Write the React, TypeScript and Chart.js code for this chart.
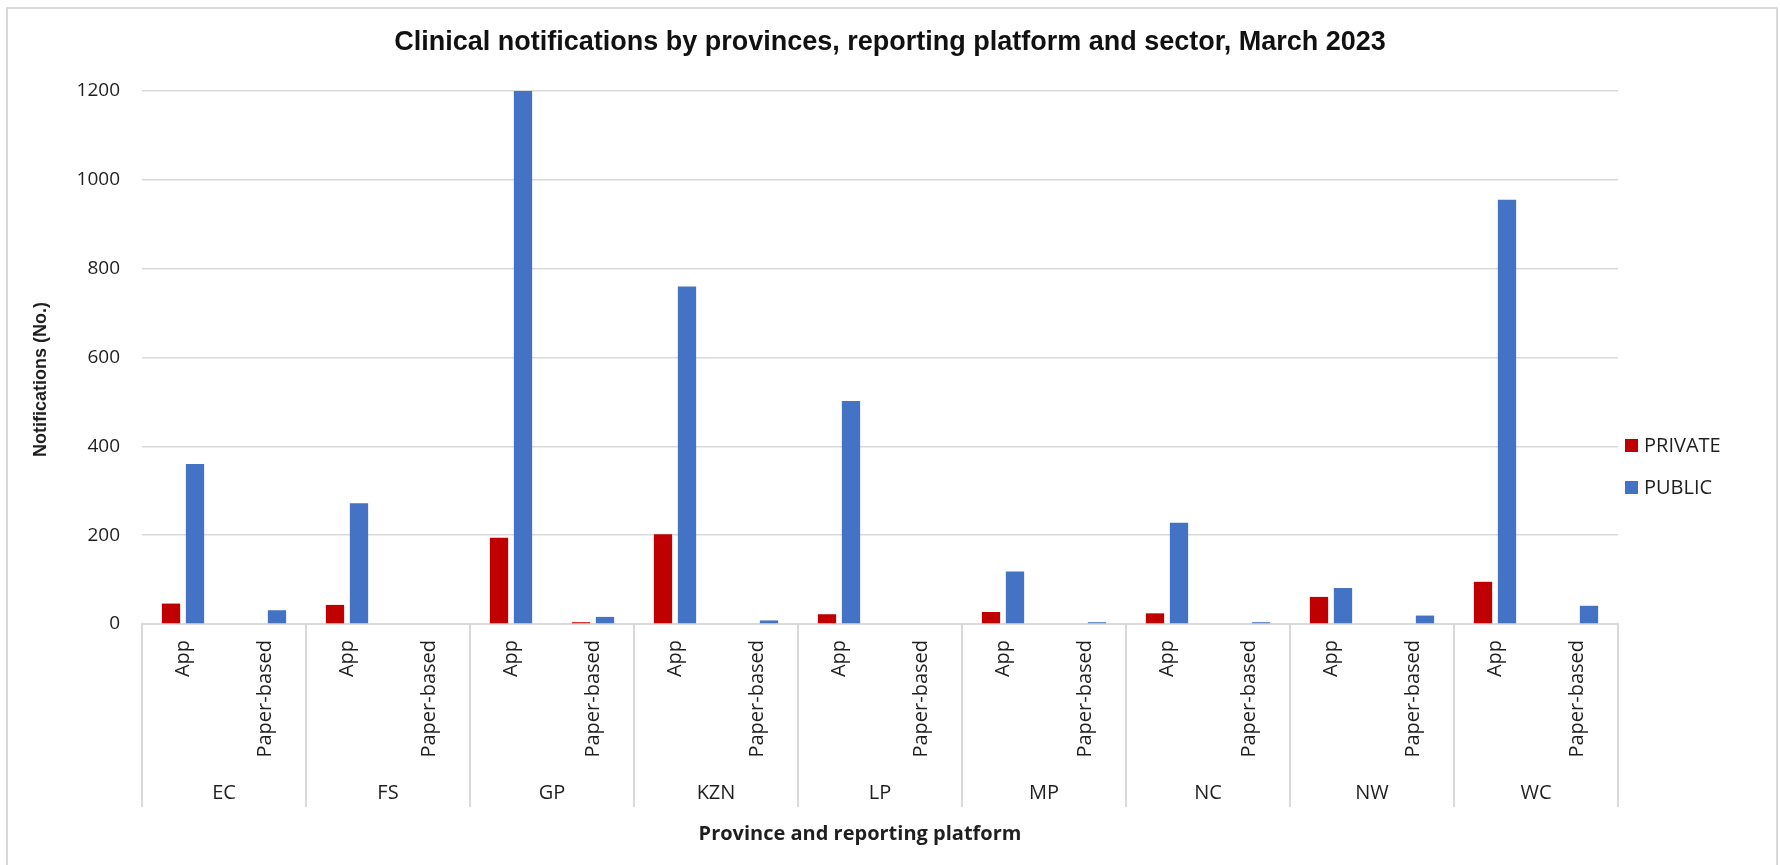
import React, { useEffect, useRef } from "react";
import { Chart, registerables } from "chart.js";

Chart.register(...registerables);

const provinces = ["EC", "FS", "GP", "KZN", "LP", "MP", "NC", "NW", "WC"];
const platforms = ["App", "Paper-based"];
const privateApp = [46, 43, 194, 202, 22, 27, 24, 61, 95];
const privatePaper = [0, 0, 4, 0, 0, 0, 0, 0, 0];
const publicApp = [360, 272, 1200, 760, 502, 118, 228, 81, 955];
const publicPaper = [31, 0, 16, 8, 0, 4, 4, 19, 41];
const yTicks = [0, 200, 400, 600, 800, 1000, 1200];

const titleText = "Clinical notifications by provinces, reporting platform and sector, March 2023";
const yTitle = "Notifications (No.)";
const xTitle = "Province and reporting platform";
const seriesNames = ["PRIVATE", "PUBLIC"];
const seriesColors = ["#C00000", "#4472C4"];

const TEXT = "#1f1f1f";
const GRID = "#d9d9d9";
const FONT = '"Open Sans", "DejaVu Sans", sans-serif';
const NARROW = '"Liberation Sans Narrow", "Liberation Sans", sans-serif';

const categoryLabels = provinces.flatMap(() => platforms);
const privateSeries = provinces.flatMap((_, i) => [privateApp[i], privatePaper[i]]);
const publicSeries = provinces.flatMap((_, i) => [publicApp[i], publicPaper[i]]);

const decorPlugin = {
  id: "excelDecor",
  afterDraw(chart: any) {
    const { ctx, chartArea, scales } = chart;
    const x = scales.x;
    const n = provinces.length;
    ctx.save();

    // group separators
    ctx.strokeStyle = GRID;
    ctx.lineWidth = 2;
    const sepBottom = chartArea.bottom + 183;
    for (let g = 0; g <= n; g++) {
      let px: number;
      if (g === 0) px = chartArea.left;
      else if (g === n) px = chartArea.right;
      else px = (x.getPixelForTick(2 * g - 1) + x.getPixelForTick(2 * g)) / 2;
      ctx.beginPath();
      ctx.moveTo(px, chartArea.bottom);
      ctx.lineTo(px, sepBottom);
      ctx.stroke();
    }

    // province labels
    ctx.fillStyle = TEXT;
    ctx.font = `20px ${FONT}`;
    ctx.textAlign = "center";
    ctx.textBaseline = "middle";
    provinces.forEach((p, g) => {
      const cx = (x.getPixelForTick(2 * g) + x.getPixelForTick(2 * g + 1)) / 2;
      ctx.fillText(p, cx, chartArea.bottom + 169);
    });

    // x axis title
    ctx.font = `bold 20px ${FONT}`;
    ctx.fillText(xTitle, (chartArea.left + chartArea.right) / 2 - 20, chartArea.bottom + 210);

    // y axis title
    ctx.save();
    ctx.translate(41, (chartArea.top + chartArea.bottom) / 2 + 22);
    ctx.rotate(-Math.PI / 2);
    ctx.font = `bold 18px ${NARROW}`;
    ctx.fillText(yTitle, 0, 0);
    ctx.restore();

    // main title
    ctx.fillStyle = "#111111";
    ctx.font = `bold 27px ${NARROW}`;
    ctx.fillText(titleText, chart.width / 2, 43);

    // legend
    ctx.font = `20px ${FONT}`;
    ctx.textAlign = "left";
    chart.data.datasets.forEach((ds: any, i: number) => {
      const cy = 445.5 + i * 42;
      const bx = chartArea.right + 7;
      ctx.fillStyle = ds.backgroundColor;
      ctx.fillRect(bx, cy - 6.5, 13, 13);
      ctx.fillStyle = TEXT;
      ctx.fillText(ds.label, bx + 19, cy + 1);
    });

    ctx.restore();
  },
};

export default function App() {
  const canvasRef = useRef<HTMLCanvasElement | null>(null);

  useEffect(() => {
    const canvas = canvasRef.current;
    if (!canvas) return;
    const chart = new Chart(canvas, {
      type: "bar",
      data: {
        labels: categoryLabels,
        datasets: [
          {
            label: seriesNames[0],
            data: privateSeries,
            backgroundColor: seriesColors[0],
            borderWidth: 0,
            categoryPercentage: 0.585,
            barPercentage: 0.7625,
          },
          {
            label: seriesNames[1],
            data: publicSeries,
            backgroundColor: seriesColors[1],
            borderWidth: 0,
            categoryPercentage: 0.585,
            barPercentage: 0.7625,
          },
        ],
      },
      options: {
        responsive: false,
        animation: false,
        devicePixelRatio: 1,
        layout: { padding: { top: 91, right: 162, bottom: 0, left: 0 } },
        plugins: {
          legend: { display: false },
          title: { display: false },
          tooltip: { enabled: false },
        },
        scales: {
          x: {
            type: "category",
            grid: { display: false, drawTicks: false },
            border: { display: true, color: GRID, width: 2 },
            ticks: {
              color: TEXT,
              font: { family: FONT, size: 20 },
              minRotation: 90,
              maxRotation: 90,
              autoSkip: false,
              padding: 16,
            },
            afterFit: (scale: any) => {
              scale.height = 241;
            },
          },
          y: {
            min: 0,
            max: 1200,
            afterBuildTicks: (scale: any) => {
              scale.ticks = yTicks.map((v) => ({ value: v }));
            },
            grid: { color: GRID, lineWidth: 1.5, drawTicks: false },
            border: { display: false },
            ticks: {
              color: TEXT,
              font: { family: FONT, size: 19 },
              padding: 22,
              callback: (v: any) => String(v),
            },
            title: { display: false },
            afterFit: (scale: any) => {
              scale.width = 142;
            },
          },
        },
      },
      plugins: [decorPlugin],
    });
    return () => chart.destroy();
  }, []);

  return (
    <div
      style={{
        position: "fixed",
        left: 0,
        top: 0,
        width: 1780,
        height: 865,
        overflow: "hidden",
        background: "#ffffff",
      }}
    >
      <canvas ref={canvasRef} width={1780} height={865} style={{ display: "block" }} />
      <div
        style={{
          position: "absolute",
          left: 6,
          top: 7,
          width: 1772,
          height: 900,
          border: `2px solid ${GRID}`,
          boxSizing: "border-box",
          pointerEvents: "none",
        }}
      />
    </div>
  );
}
